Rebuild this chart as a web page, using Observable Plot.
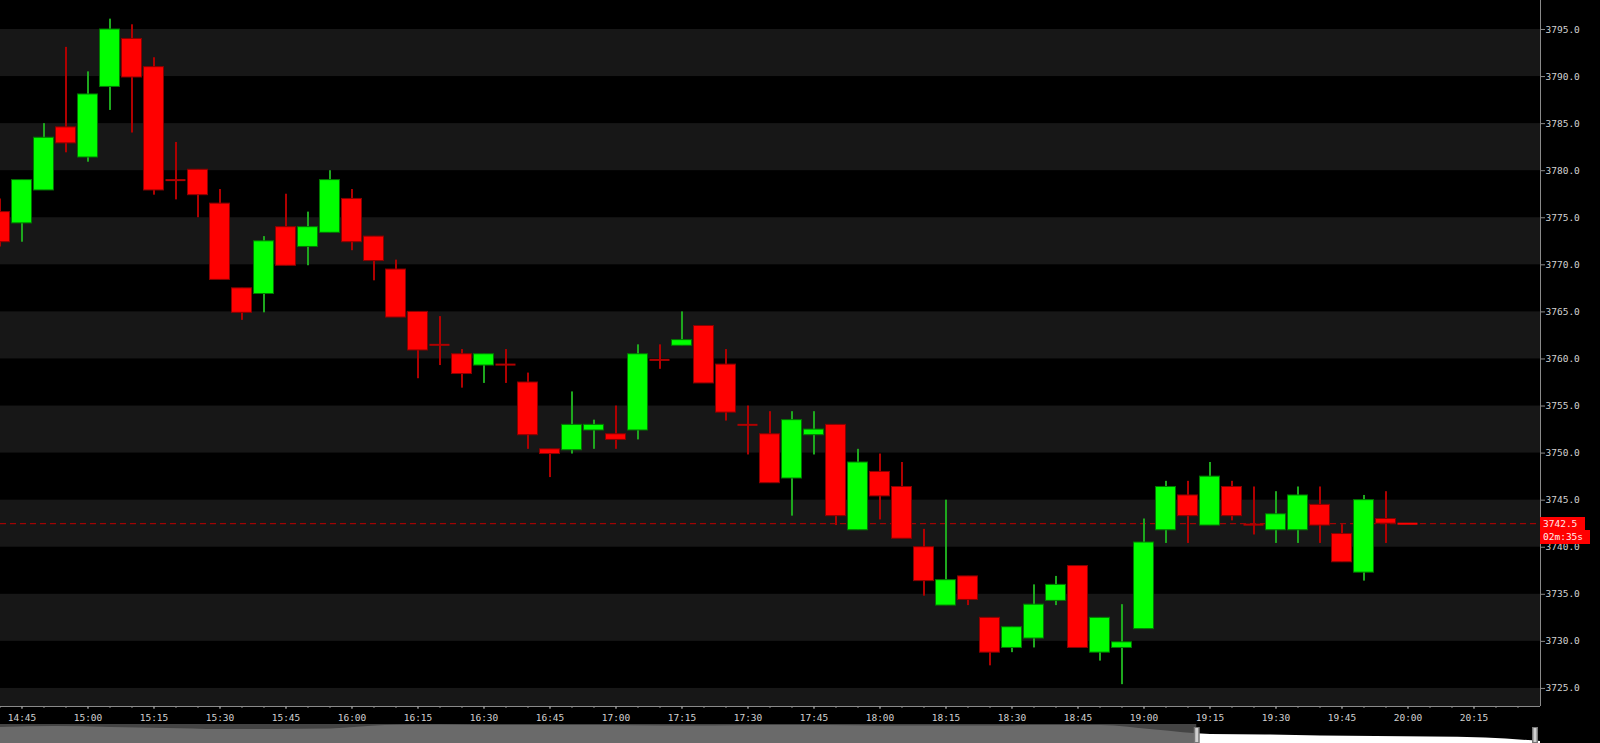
<!DOCTYPE html>
<html>
<head>
<meta charset="utf-8">
<script src="https://cdn.jsdelivr.net/npm/d3@7"></script>
<script src="https://cdn.jsdelivr.net/npm/@observablehq/plot@0.6"></script>
<style>
  html, body { margin: 0; padding: 0; background: #000; overflow: hidden; }
  #wrap { position: relative; width: 1600px; height: 743px; background: #000; }
  #wrap svg { display: block; }
  .tag { position: absolute; background: #ff0000; color: #ffecec; font: 9.5px "DejaVu Sans Mono", monospace; line-height: 13px; padding-left: 3px; box-sizing: border-box; white-space: nowrap; }
</style>
</head>
<body>
<div id="wrap"></div>
<script>
// ---- data (5-minute candles) ----
const times = ["14:40","14:45","14:50","14:55","15:00","15:05","15:10","15:15","15:20","15:25","15:30","15:35","15:40","15:45","15:50","15:55","16:00","16:05","16:10","16:15","16:20","16:25","16:30","16:35","16:40","16:45","16:50","16:55","17:00","17:05","17:10","17:15","17:20","17:25","17:30","17:35","17:40","17:45","17:50","17:55","18:00","18:05","18:10","18:15","18:20","18:25","18:30","18:35","18:40","18:45","18:50","18:55","19:00","19:05","19:10","19:15","19:20","19:25","19:30","19:35","19:40","19:45","19:50","19:55","20:00"];
const open  = [3775.6,3774.4,3777.9,3784.6,3781.4,3788.9,3794.0,3791.0,3779.0,3780.1,3776.5,3767.5,3766.9,3774.0,3771.9,3773.4,3777.0,3773.0,3769.5,3765.0,3761.5,3760.5,3759.3,3759.4,3757.5,3750.4,3750.3,3752.4,3752.0,3752.4,3759.9,3761.4,3763.5,3759.4,3753.0,3752.0,3747.3,3751.9,3753.0,3741.8,3748.0,3746.4,3740.0,3733.8,3736.9,3732.5,3729.3,3730.3,3734.3,3738.0,3728.8,3729.3,3731.3,3741.8,3745.5,3742.3,3746.4,3742.4,3741.8,3741.8,3744.5,3741.4,3737.3,3743.0,3742.5];
const high  = [3777.0,3779.0,3785.0,3793.1,3790.5,3796.1,3795.5,3792.0,3783.0,3780.1,3778.0,3767.5,3773.0,3777.5,3775.6,3780.0,3778.0,3773.0,3770.5,3765.0,3764.5,3761.0,3760.5,3761.0,3758.5,3750.4,3756.5,3753.5,3755.0,3761.5,3761.5,3765.0,3763.5,3761.0,3755.0,3754.4,3754.4,3754.4,3753.0,3750.4,3749.9,3749.0,3741.9,3745.0,3736.9,3732.5,3731.5,3736.0,3736.9,3738.0,3732.5,3733.9,3743.0,3747.0,3747.0,3749.0,3747.0,3746.4,3745.9,3746.4,3746.4,3742.4,3745.5,3745.9,3742.5];
const low   = [3771.9,3772.4,3777.9,3781.9,3780.9,3786.4,3784.0,3777.4,3776.9,3775.0,3768.4,3764.1,3764.9,3769.9,3769.9,3773.4,3771.5,3768.3,3764.4,3757.9,3759.3,3756.9,3757.4,3757.4,3750.4,3747.4,3749.9,3750.4,3750.4,3751.4,3758.9,3761.4,3757.4,3753.4,3749.8,3746.8,3743.3,3749.8,3742.3,3741.8,3742.9,3740.9,3734.8,3733.8,3733.8,3727.4,3728.8,3729.3,3733.8,3729.3,3727.9,3725.4,3731.3,3740.4,3740.4,3742.3,3742.8,3741.3,3740.4,3740.4,3740.4,3738.4,3736.4,3740.4,3742.5];
const close = [3772.4,3779.0,3783.5,3782.9,3788.1,3795.0,3789.9,3777.9,3779.0,3777.4,3768.4,3764.9,3772.5,3769.9,3774.0,3779.0,3772.4,3770.4,3764.4,3760.9,3761.5,3758.4,3760.5,3759.4,3751.9,3749.9,3753.0,3753.0,3751.4,3760.5,3759.9,3762.0,3757.4,3754.3,3753.0,3746.8,3753.5,3752.5,3743.3,3749.0,3745.4,3740.9,3736.4,3736.5,3734.4,3728.8,3731.5,3733.9,3736.0,3729.3,3732.5,3729.9,3740.5,3746.4,3743.3,3747.5,3743.3,3742.4,3743.5,3745.5,3742.3,3738.4,3745.0,3742.5,3742.5];

// y axis ticks and shaded price bands
const yTicks = [3725,3730,3735,3740,3745,3750,3755,3760,3765,3770,3775,3780,3785,3790,3795];
const bandLows = [3720,3730,3740,3750,3760,3770,3780,3790];
const yDomain = [3723.08, 3798.08];
const xDomainTimes = ["14:40:07","20:30:07"];
const xLabelTimes = ["14:45","20:15"];   // first / last labelled tick
const xMinorTimes = ["14:40","20:25"];   // first / last minor tick

// last price / countdown tags
const lastPrice = 3742.5;
const countdown = "02m:35s";

// navigator overview (area heights), and selected window (in navigator index units)
const navHeights = [16,17,16,15,14,14,14.5,18,18.5,18,18,18,17.5,17.5,18,18,17.5,17.5,17.5,18,18,13.5,9,8.5,7.5,7,6.5,5.5,2];
const navWindow = [21.75, 27.9];

// ---- build ----
const toDate = s => { const [h,m,sec] = s.split(":").map(Number); return new Date(Date.UTC(2024,0,2,h,m,sec||0)); };
const candles = times.map((t,i) => ({t: toDate(t), open: open[i], high: high[i], low: low[i], close: close[i]}));
const ups = candles.filter(d => d.close > d.open);
const downs = candles.filter(d => d.close < d.open);
const dojis = candles.filter(d => d.close === d.open);
const xDomain = xDomainTimes.map(toDate);
const majorTicks = d3.utcMinute.every(15).range(toDate(xLabelTimes[0]), new Date(+toDate(xLabelTimes[1]) + 1));
const minorTicks = d3.utcMinute.every(5).range(toDate(xMinorTimes[0]), new Date(+toDate(xMinorTimes[1]) + 1));
const half = 5 * 60000 * (10 / 22);   // body half-width (body 20px of a 22px slot)
const x1 = d => new Date(+d.t - half), x2 = d => new Date(+d.t + half);
const bands = bandLows.map(b => ({y1: Math.max(b, yDomain[0]), y2: b + 5}));

const GREEN = "#00ff00", RED = "#ff0000";
const GREEN_WICK = "#1ea81e", RED_WICK = "#b00000";

const chart = Plot.plot({
  width: 1600, height: 724,
  marginLeft: 0, marginRight: 60, marginTop: 0, marginBottom: 18,
  style: {background: "#000", color: "#d2d2d2", fontFamily: "'DejaVu Sans Mono', monospace", fontSize: "9.5px"},
  x: {type: "utc", domain: xDomain, label: null},
  y: {domain: yDomain, label: null},
  marks: [
    Plot.rect(bands, {x1: () => xDomain[0], x2: () => xDomain[1], y1: "y1", y2: "y2", fill: "#171717"}),
    Plot.ruleY([lastPrice], {stroke: "#c00000", strokeWidth: 1, strokeDasharray: "6,4"}),
    Plot.ruleX(ups, {x: "t", y1: "low", y2: "high", stroke: GREEN_WICK, strokeWidth: 2}),
    Plot.ruleX(downs.concat(dojis), {x: "t", y1: "low", y2: "high", stroke: RED_WICK, strokeWidth: 2}),
    Plot.rect(ups, {x1, x2, y1: "open", y2: "close", fill: GREEN, stroke: "#007800", strokeWidth: 1}),
    Plot.rect(downs, {x1, x2, y1: "open", y2: "close", fill: RED, stroke: "#8a0000", strokeWidth: 1}),
    Plot.ruleY(dojis.slice(0, -1), {y: "open", x1, x2, stroke: RED_WICK, strokeWidth: 2}),
    Plot.ruleY(dojis.slice(-1), {y: "open", x1, x2, stroke: RED, strokeWidth: 2}),
    Plot.ruleY([yDomain[0]], {stroke: "#8a8a8a"}),
    Plot.ruleX([xDomain[1]], {stroke: "#8a8a8a"}),
    Plot.axisY({anchor: "right", ticks: yTicks, tickFormat: d3.format(".1f"), tickSize: 4, tickPadding: 1, stroke: "#8a8a8a", label: null}),
    Plot.axisX({ticks: minorTicks, tickFormat: () => "", tickSize: 2, stroke: "#8a8a8a", label: null}),
    Plot.axisX({ticks: majorTicks, tickFormat: d3.utcFormat("%H:%M"), tickSize: 3, tickPadding: 5, stroke: "#a0a0a0", label: null})
  ]
});

const navData = navHeights.map((h, i) => ({i, h}));
const nav = Plot.plot({
  width: 1600, height: 19,
  marginLeft: 0, marginRight: 60, marginTop: 0, marginBottom: 0,
  style: {background: "#000"},
  x: {domain: [0, navHeights.length - 1], axis: null},
  y: {domain: [0, 19], axis: null},
  marks: [
    Plot.area(navData, {x1: "i", y1: () => 0, y2: "h", fill: "#ffffff", curve: "monotone-x"}),
    Plot.rect([navWindow], {x1: () => 0, x2: d => d[0], y1: () => 0, y2: () => 19, fill: "#505050", fillOpacity: 0.85}),
    Plot.ruleX(navWindow, {x: d => d, y1: () => 0, y2: () => 16, stroke: "#777", strokeWidth: 6}),
    Plot.ruleX(navWindow, {x: d => d, y1: () => 1, y2: () => 15, stroke: "#d0d0d0", strokeWidth: 3})
  ]
});

const wrap = document.getElementById("wrap");
wrap.appendChild(chart);
wrap.appendChild(nav);

const yy = chart.scale("y").apply(lastPrice);
const xr = 1600 - 60;
const t1 = document.createElement("div");
t1.className = "tag"; t1.textContent = d3.format(".1f")(lastPrice);
Object.assign(t1.style, {left: xr + "px", top: (yy - 6.5) + "px", width: "45px", height: "13px"});
const t2 = document.createElement("div");
t2.className = "tag"; t2.textContent = countdown;
Object.assign(t2.style, {left: xr + "px", top: (yy + 6.5) + "px", width: "50px", height: "14px"});
wrap.appendChild(t1); wrap.appendChild(t2);
</script>
</body>
</html>
